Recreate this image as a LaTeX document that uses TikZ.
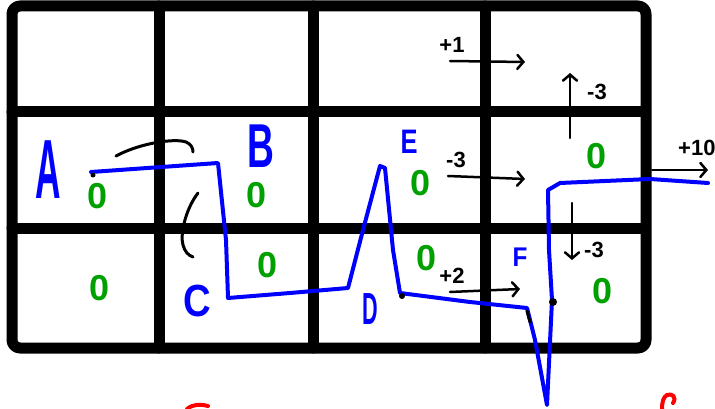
\documentclass[tikz,border=0pt]{standalone}
\usepackage{fontspec}
\usepackage{graphicx}
\setmainfont{Liberation Sans}
\usetikzlibrary{arrows.meta}
\definecolor{penblue}{RGB}{0,0,255}
\definecolor{pengreen}{RGB}{0,160,0}
\definecolor{penred}{RGB}{255,0,0}
\tikzset{
  wall/.style   = {line width=11pt, line cap=round, line join=round},
  route/.style  = {penblue, line width=4pt, line cap=round, line join=round},
  reward/.style = {line width=2.5pt, line cap=round, -{Straight Barb[length=6pt, width=14pt, line cap=round]}},
  rlabel/.style = {font=\fontsize{22}{22}\selectfont\bfseries, inner sep=0pt},
  stname/.style = {penblue, inner sep=0pt},
  qval/.style   = {pengreen, font=\fontsize{36}{36}\selectfont\bfseries, inner sep=0pt},
  hint/.style   = {line width=3pt, line cap=round},
  blob/.style   = {circle, fill, inner sep=0pt, minimum size=6pt}
}

\begin{document}
\begin{tikzpicture}[x=1pt, y=-1pt]
  \useasboundingbox (0,0) rectangle (715,409);
  \draw[wall, rounded corners=8pt] (12,6) rectangle (646,348);
  \foreach \gx in {159,313,485} \draw[wall] (\gx,6) -- (\gx,348);
  \foreach \gy in {112,228} \draw[wall] (12,\gy) -- (642,\gy);

  \node[stname, font=\fontsize{84}{84}\selectfont\bfseries] (a) at (48,170) {\scalebox{.42}[1]{A}};
  \node[stname, font=\fontsize{62}{62}\selectfont\bfseries] (b) at (261,146) {\scalebox{.6}[1]{B}};
  \node[stname, font=\fontsize{45}{45}\selectfont\bfseries] (c) at (197,301) {\scalebox{.85}[1]{C}};
  \node[stname, font=\fontsize{45}{45}\selectfont\bfseries] (d) at (370,309) {\scalebox{.48}[1]{D}};
  \node[stname, font=\fontsize{34}{34}\selectfont\bfseries] (e) at (409,142) {\scalebox{.75}[1]{E}};
  \node[stname, font=\fontsize{27}{27}\selectfont\bfseries] (f) at (520,257) {\scalebox{.9}[1]{F}};

  \node[qval] (qa) at (98,196) {0};
  \node[qval] (qb) at (257,195) {0};
  \node[qval] (qg) at (100,288) {0};
  \node[qval] (qc) at (268,265) {0};
  \node[qval] (qe) at (421,183) {0};
  \node[qval] (qh) at (597,156) {0};
  \node[qval] (qd) at (427,258) {0};
  \node[qval] (qf) at (603,291) {0};

  \coordinate (r1s) at (450,61);  \coordinate (r1e) at (525,62);
  \coordinate (r2s) at (570,138); \coordinate (r2e) at (570,73);
  \coordinate (r3s) at (448,176); \coordinate (r3e) at (525,179);
  \coordinate (r4s) at (652,170); \coordinate (r4e) at (708,170);
  \coordinate (r5s) at (572,203); \coordinate (r5e) at (572,260);
  \coordinate (r6s) at (450,292); \coordinate (r6e) at (520,289);
  \draw[reward] (r1s) -- (r1e);
  \draw[reward] (r2s) -- (r2e);
  \draw[reward] (r3s) -- (r3e);
  \draw[reward] (r4s) -- (r4e);
  \draw[reward] (r5s) -- (r5e);
  \draw[reward] (r6s) -- (r6e);
  \node[rlabel] (l1) at (452,45) {+1};
  \node[rlabel] (l2) at (597,92) {-3};
  \node[rlabel] (l3) at (456,160) {-3};
  \node[rlabel, anchor=west] (l4) at (678,148) {+10};
  \node[rlabel] (l5) at (594,250) {-3};
  \node[rlabel] (l6) at (452,276) {+2};

  \draw[hint] (116,156) .. controls (140,143) and (175,138) .. (186,142)
              .. controls (191,144) and (193,148) .. (193,152);
  \draw[hint] (198,193) .. controls (185,210) and (180,235) .. (183,245)
              .. controls (185,252) and (188,255) .. (193,257);

  \draw[route] (91,172) -- (218,163) -- (226,240) -- (228,298) -- (290,293)
    -- (348,288) -- (363,230) -- (380,166) -- (385,168) -- (393,250) -- (400,293)
    -- (470,302) -- (527,308) -- (535,340) -- (547,405) -- (552,300)
    -- (549,250) -- (548,190) -- (560,183) -- (650,179) -- (708,183);

  \node[blob, minimum size=5pt] (sa) at (93,175) {};
  \node[blob] (sd) at (402,296) {};
  \node[blob, minimum size=8pt] (sf) at (553,302) {};
  \draw[hint] (527,311) -- (530,322);

  \draw[penred, line width=4pt, line cap=round] (187,409) .. controls (193,404) and (200,404) .. (208,406);
  \draw[penred, line width=4pt, line cap=round] (673,403) .. controls (677,397) and (672,393) .. (667,395)
    .. controls (663,397) and (662,403) .. (662,409);
\end{tikzpicture}
\end{document}
